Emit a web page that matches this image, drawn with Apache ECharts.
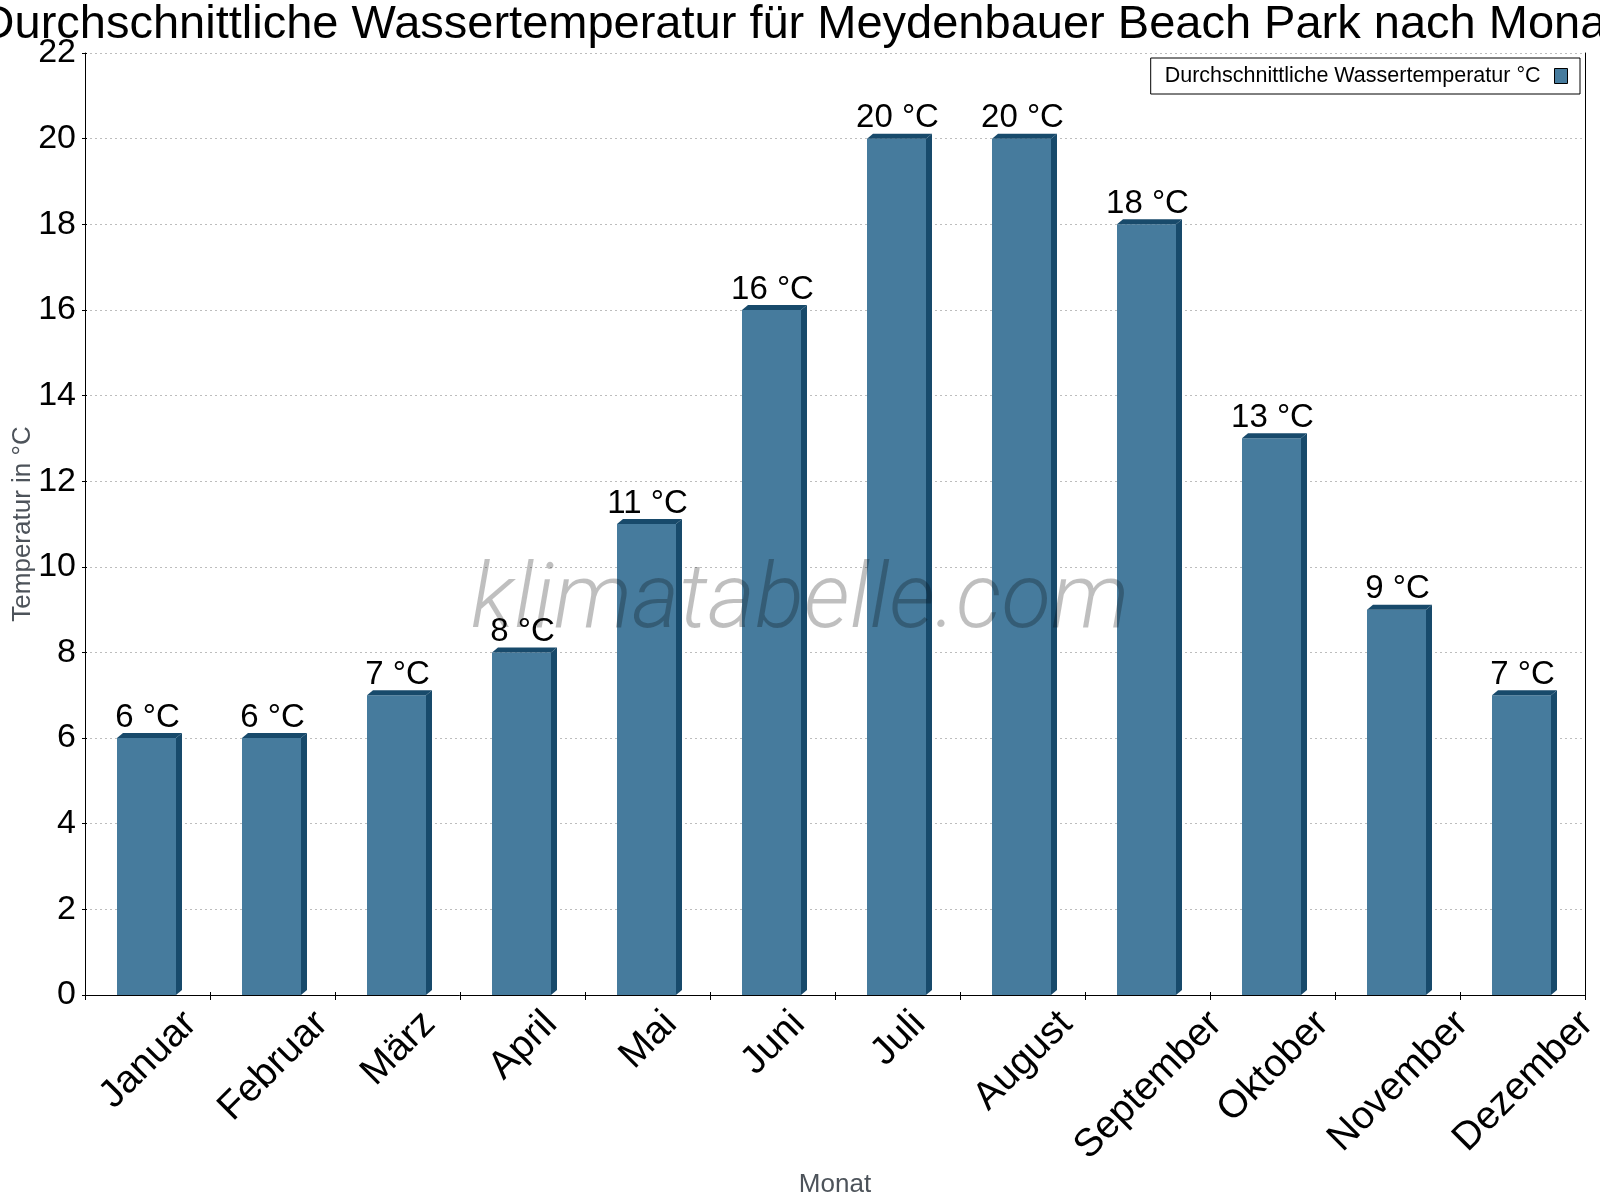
<!DOCTYPE html>
<html>
<head>
<meta charset="utf-8">
<script src="https://cdn.jsdelivr.net/npm/echarts@6/dist/echarts.min.js"></script>
<style>html,body{margin:0;padding:0;background:#fff}#c{width:1600px;height:1200px}</style>
</head>
<body>
<div id="c"></div>
<script>
const titleText = 'Durchschnittliche Wassertemperatur für Meydenbauer Beach Park nach Monat';
const months = ['Januar','Februar','März','April','Mai','Juni','Juli','August','September','Oktober','November','Dezember'];
const waterTemp = [6, 6, 7, 8, 11, 16, 20, 20, 18, 13, 9, 7];
const seriesName = 'Durchschnittliche Wassertemperatur °C';
const yTicks = [0, 2, 4, 6, 8, 10, 12, 14, 16, 18, 20, 22];

const FRONT = '#467b9d';
const SIDE = '#184a6b';
const FONT = '"Liberation Sans", Arial, sans-serif';
const XFS = 39;

const cv = document.createElement('canvas').getContext('2d');
cv.font = XFS + 'px "Liberation Sans"';

const chart = echarts.init(document.getElementById('c'), null, { renderer: 'canvas' });
chart.setOption({
  animation: false,
  backgroundColor: '#fff',
  title: {
    text: titleText, left: 'center', top: -3, padding: [5, 0, 5, 12],
    textStyle: { fontSize: 47, fontWeight: 'normal', fontFamily: FONT, color: '#000' }
  },
  legend: {
    right: 20, top: 58, align: 'right',
    backgroundColor: '#fff', borderColor: '#000', borderWidth: 1, borderRadius: 0,
    padding: [7, 12, 7, 14], itemWidth: 13, itemHeight: 15,
    textStyle: { fontSize: 21.5, fontFamily: FONT, color: '#000', padding: [0, 9, 0, 0] },
    data: [{ name: seriesName, icon: 'rect', itemStyle: { color: FRONT, borderColor: '#000', borderWidth: 1 } }]
  },
  grid: { left: 85, right: 15, top: 53, bottom: 205, containLabel: false, outerBoundsMode: 'none' },
  xAxis: [{
    type: 'category', data: months, position: 'bottom', boundaryGap: true,
    name: 'Monat', nameLocation: 'middle', nameGap: 177, nameMoveOverlap: false,
    nameTextStyle: { fontSize: 26, fontFamily: FONT, color: '#4d535a' },
    axisLine: { show: true, lineStyle: { color: '#000', width: 1 } },
    axisTick: { show: true, inside: false, length: 5, alignWithLabel: false, lineStyle: { color: '#000' } },
    axisLabel: { show: false },
    splitLine: { show: false }
  }, {
    type: 'category', data: months, position: 'bottom', boundaryGap: true,
    axisLine: { show: false }, axisLabel: { show: false }, splitLine: { show: false },
    axisTick: { show: true, inside: true, length: 3, lineStyle: { color: '#000' } }
  }],
  yAxis: [{
    type: 'value', min: yTicks[0], max: yTicks[yTicks.length - 1], interval: 2, position: 'left',
    name: 'Temperatur in °C', nameLocation: 'middle', nameGap: 49, nameMoveOverlap: false,
    nameTextStyle: { fontSize: 26, fontFamily: FONT, color: '#4d535a' },
    axisLine: { show: true, lineStyle: { color: '#000', width: 1 } },
    axisTick: { show: true, inside: false, length: 3, lineStyle: { color: '#000' } },
    axisLabel: { fontSize: 34, fontFamily: FONT, color: '#000', margin: 9 },
    splitLine: { show: true, lineStyle: { color: '#bdbdbd', type: [2, 3], width: 1 } }
  }, {
    type: 'value', min: yTicks[0], max: yTicks[yTicks.length - 1], interval: 2, position: 'left',
    axisLine: { show: false }, axisLabel: { show: false }, splitLine: { show: false },
    axisTick: { show: true, inside: true, length: 2, lineStyle: { color: '#000' } }
  }, {
    type: 'value', min: yTicks[0], max: yTicks[yTicks.length - 1], interval: 2, position: 'right',
    axisLine: { show: true, lineStyle: { color: '#000', width: 1 } },
    axisLabel: { show: false }, splitLine: { show: false }, axisTick: { show: false }
  }],
  graphic: [{
    type: 'text', left: 'center', top: 559, z: 100, silent: true,
    style: { text: 'klimatabelle.com', fontSize: 91, fontStyle: 'italic', fontWeight: 300,
      fontFamily: 'Roboto', fill: 'rgba(0,0,0,0.25)' }
  }],
  series: [{
    name: seriesName, type: 'custom', xAxisIndex: 0, yAxisIndex: 0,
    itemStyle: { color: FRONT },
    data: waterTemp.map((v, i) => [i, v]),
    renderItem: function (params, api) {
      const xi = api.value(0), v = api.value(1);
      const top = api.coord([xi, v]);
      const base = api.coord([xi, 0]);
      const band = api.size([1, 0])[0];
      const fw = band * 0.472;
      const x0 = top[0] - fw / 2 - 1, x1 = x0 + fw;
      const dx = 6, dy = 5;
      return { type: 'group', children: [
        { type: 'rect', shape: { x: x0, y: top[1], width: fw, height: base[1] - top[1] }, style: { fill: FRONT } },
        { type: 'polygon', shape: { points: [[x1, top[1]], [x1 + dx, top[1] - dy], [x1 + dx, base[1] - dy], [x1, base[1]]] }, style: { fill: SIDE } },
        { type: 'polygon', shape: { points: [[x0, top[1]], [x0 + dx, top[1] - dy], [x1 + dx, top[1] - dy], [x1, top[1]]] }, style: { fill: SIDE } },
        { type: 'text', x: top[0], y: top[1] - 20.5, style: { text: v + ' °C', fontSize: 33, fontFamily: FONT, fill: '#000', align: 'center', verticalAlign: 'middle' } }
      ] };
    }
  }, {
    name: 'monthLabels', type: 'custom', xAxisIndex: 0, yAxisIndex: 0, silent: true,
    data: months.map((m, i) => [i]),
    renderItem: function (params, api) {
      const xi = api.value(0);
      const label = months[xi];
      const p = api.coord([xi, 0]);
      const w = cv.measureText(label).width;
      const half = (w + 0.72 * XFS) / (2 * Math.SQRT2);
      return { type: 'text', x: p[0] + 1, y: p[1] + 13 + half, rotation: Math.PI / 4,
        style: { text: label, fontSize: XFS, fontFamily: FONT, fill: '#000', align: 'center', verticalAlign: 'middle' } };
    }
  }]
});
</script>
</body>
</html>
